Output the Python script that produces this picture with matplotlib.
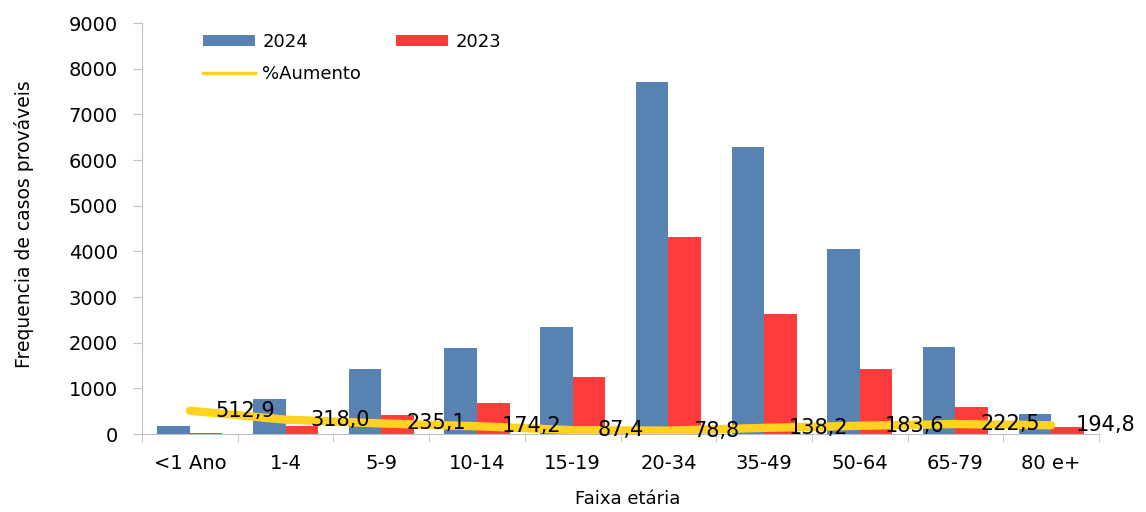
import numpy as np
import matplotlib
matplotlib.use("Agg")
import matplotlib.pyplot as plt
from matplotlib.lines import Line2D

categories = ["<1 Ano", "1-4", "5-9", "10-14", "15-19", "20-34", "35-49", "50-64", "65-79", "80 e+"]
casos_2024 = [180, 780, 1420, 1880, 2340, 7710, 6290, 4060, 1900, 450]
casos_2023 = [29, 187, 424, 686, 1249, 4312, 2640, 1432, 589, 153]
aumento = [512.9, 318.0, 235.1, 174.2, 87.4, 78.8, 138.2, 183.6, 222.5, 194.8]

plt.rcParams['font.family'] = ['DejaVu Sans']

fig = plt.figure(figsize=(11.46, 5.12), dpi=100)
ax = fig.add_axes([0.124, 0.152, 0.835, 0.803])

x = np.arange(len(categories))
w = 0.34
b1 = ax.bar(x - w / 2, casos_2024, w, color='#5882B2', zorder=2)
b2 = ax.bar(x + w / 2, casos_2023, w, color='#FF3B3B', zorder=2)
ax.plot(x, aumento, color='#FFD21F', lw=6, solid_capstyle='round',
        solid_joinstyle='round', zorder=3)

for xi, v in zip(x, aumento):
    ax.annotate(f"{v:.1f}".replace('.', ','), (xi, v), xytext=(18, 0),
                textcoords='offset points', ha='left', va='center',
                fontsize=15, color='black', zorder=4)

ax.set_xlim(-0.5, len(categories) - 0.5)
ax.set_ylim(0, 9000)
ax.set_yticks(np.arange(0, 9001, 1000))
ax.set_xticks(x)
ax.set_xticklabels(categories)
ax.set_xticks(np.arange(-0.5, len(categories), 1), minor=True)
ax.tick_params(axis='x', which='major', length=0, pad=14, labelsize=14)
ax.tick_params(axis='x', which='minor', length=6, color='#BFBFBF', direction='out')
ax.tick_params(axis='y', length=6.5, color='#BFBFBF', pad=11, labelsize=14)

for s in ['top', 'right']:
    ax.spines[s].set_visible(False)
for s in ['left', 'bottom']:
    ax.spines[s].set_color('#BFBFBF')

ax.set_ylabel('Frequencia de casos prováveis', fontsize=13.5)
ax.yaxis.set_label_coords(-0.113, 0.51)
ax.set_xlabel('Faixa etária', fontsize=13)
ax.xaxis.set_label_coords(0.507, -0.135)

line_handle = Line2D([], [], color='#FFD21F', lw=2.5)
ax.legend([b1, line_handle, b2], ['2024', '%Aumento', '2023'], ncol=2, frameon=False,
          loc='upper left', bbox_to_anchor=(0.177, 0.936), bbox_transform=fig.transFigure,
          borderpad=0, borderaxespad=0, fontsize=13, handlelength=2.9,
          handletextpad=0.4, columnspacing=1.9, labelspacing=0.8, handleheight=0.5)

fig.savefig('out.png', dpi=100)
